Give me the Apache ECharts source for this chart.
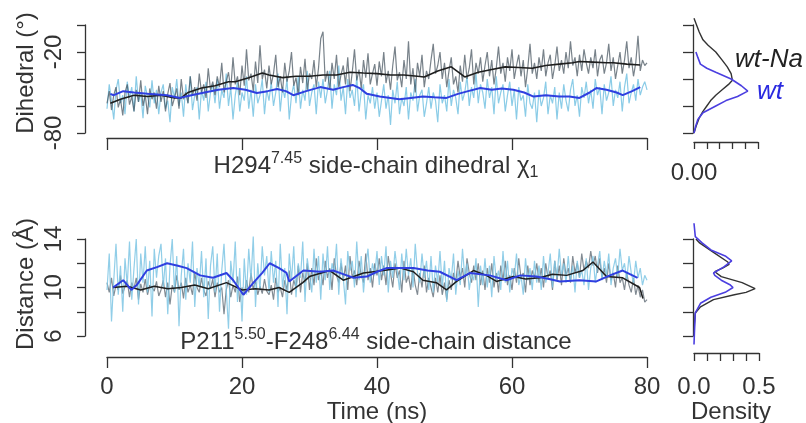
<!DOCTYPE html>
<html>
<head>
<meta charset="utf-8">
<script src="https://cdn.jsdelivr.net/npm/echarts@6.0.0/dist/echarts.min.js"></script>
<style>
html,body{margin:0;padding:0;background:#fff;}
#chart{width:806px;height:423px;}
</style>
</head>
<body>
<div id="chart"></div>
<script>
// ---------- DATA ----------
// raw trajectories, evenly sampled from 0 to 80 ns (one row = 8 ns)
const rawStartNs = 0, rawEndNs = 80;
const wtNaDihedralRaw = [
-58,-49,-63,-52,-46,-61,-55,-67,-50,-44,-59,-53,-64,-48,-57,-41,-60,-52,-66,-47,-55,-50,-62,-45,
-57,-49,-64,-51,-43,-60,-54,-47,-62,-40,-55,-50,-58,-38,-52,-46,-56,-36,-50,-44,-54,-32,-48,-42,
-52,-38,-46,-28,-50,-42,-35,-48,-24,-44,-38,-52,-30,-45,-18,-41,-36,-49,-27,-43,-15,-40,-33,-47,
-30,-44,-36,-22,-46,-38,-50,-28,-42,-34,-20,-45,-39,-52,-31,-43,-25,-48,-36,-40,-26,-46,-32,-10,
-5,-42,-34,-48,-28,-40,-22,-46,-37,-30,-44,-24,-49,-35,-18,-41,-33,-47,-26,-39,-21,-44,-36,-29,
-45,-27,-38,-20,-43,-34,-48,-30,-16,-41,-35,-46,-26,-40,-12,-44,-32,-50,-28,-38,-22,-46,-34,-40,
-26,-14,-36,-30,-20,-40,-28,-46,-34,-24,-44,-38,-50,-30,-42,-22,-40,-32,-18,-44,-28,-36,-24,-42,
-30,-20,-38,-26,-44,-32,-16,-36,-28,-42,-24,-34,-18,-40,-30,-22,-38,-26,-46,-32,-14,-36,-28,-40,
-24,-34,-18,-38,-28,-22,-40,-30,-16,-34,-26,-36,-20,-32,-12,-30,-24,-38,-22,-34,-18,-28,-36,-24,
-32,-18,-38,-26,-22,-36,-28,-14,-34,-24,-40,-30,-20,-36,-26,-12,-32,-24,-38,-28,-8,-34,-26,-30,
-28];
const wtDihedralRaw = [
-62,-44,-56,-70,-48,-40,-58,-52,-66,-42,-54,-46,-64,-38,-57,-50,-69,-45,-53,-61,-41,-58,-48,-66,
-50,-44,-62,-56,-72,-46,-54,-40,-60,-50,-68,-44,-58,-38,-63,-52,-46,-70,-48,-56,-42,-64,-50,-44,
-58,-40,-62,-48,-54,-36,-60,-46,-70,-52,-42,-64,-50,-56,-38,-62,-48,-68,-44,-58,-52,-40,-66,-48,
-56,-42,-60,-50,-36,-64,-46,-54,-40,-70,-52,-44,-58,-38,-62,-48,-56,-34,-60,-50,-44,-66,-42,-54,
-40,-58,-48,-34,-62,-44,-52,-30,-56,-46,-66,-40,-54,-48,-60,-38,-64,-50,-44,-70,-52,-58,-46,-62,
-50,-68,-56,-44,-62,-52,-74,-48,-58,-42,-66,-54,-60,-46,-70,-50,-56,-40,-64,-52,-48,-68,-58,-46,
-62,-50,-56,-72,-44,-58,-52,-64,-40,-60,-48,-54,-66,-42,-56,-50,-38,-60,-46,-54,-36,-58,-44,-50,
-62,-40,-54,-46,-66,-38,-58,-50,-44,-64,-52,-42,-60,-48,-70,-46,-56,-52,-68,-44,-58,-62,-50,-72,
-48,-60,-54,-42,-66,-52,-58,-46,-70,-50,-62,-44,-56,-64,-48,-40,-60,-52,-68,-46,-54,-42,-58,-48,
-62,-40,-52,-46,-66,-44,-56,-50,-38,-60,-48,-54,-42,-64,-46,-36,-58,-50,-44,-56,-40,-52,-46,-42,
-48];
const wtNaDistanceRaw = [
10.4,9.6,10.8,9.3,10.2,9.8,11.0,9.5,10.1,10.6,9.2,10.4,9.9,10.8,9.0,10.3,9.6,10.7,9.4,10.2,10.0,9.7,10.5,9.3,
9.8,10.6,9.2,10.4,8.6,10.2,9.6,11.0,9.8,10.4,9.1,10.8,9.6,10.2,9.4,11.2,10.0,9.6,10.8,9.8,9.3,10.5,9.9,10.7,
9.2,10.4,9.6,10.0,7.8,9.8,10.6,9.2,10.2,9.6,10.9,8.8,10.0,9.4,10.6,9.6,11.2,9.8,10.6,9.4,10.1,9.5,10.7,9.7,
9.4,10.2,9.0,10.8,9.6,10.0,9.2,10.6,9.8,11.4,9.4,10.6,10.0,11.8,9.6,11.2,10.4,12.0,9.8,11.6,10.2,12.4,10.6,11.4,
10.2,12.2,10.8,11.6,9.8,12.4,11.0,10.4,12.0,10.6,11.8,9.8,12.6,10.8,11.4,10.2,12.2,11.0,10.4,12.8,10.6,11.6,10.0,12.0,
11.0,12.4,10.6,11.8,10.2,12.6,11.2,10.0,12.0,10.8,11.4,9.6,12.2,10.4,11.0,9.8,11.6,10.2,9.4,11.2,10.0,11.8,9.6,10.8,
10.0,9.2,10.8,9.6,11.0,9.4,10.4,9.0,10.6,9.8,11.2,10.4,12.2,10.8,11.6,10.0,12.4,11.2,10.4,11.8,10.6,12.0,10.2,11.4,
9.8,11.6,10.4,12.0,10.0,11.2,9.6,11.8,10.6,12.2,10.2,11.0,9.8,11.6,10.4,12.4,10.8,11.2,9.6,11.8,10.2,11.4,10.8,12.0,
10.4,11.6,10.0,12.0,10.8,11.4,9.8,12.2,10.6,11.8,10.2,12.4,11.0,11.6,10.4,12.6,11.2,12.0,10.8,12.8,11.4,12.2,11.6,13.0,
11.8,12.6,11.2,12.4,10.8,11.6,10.4,12.0,10.6,11.2,10.0,11.8,10.4,10.8,9.8,11.2,10.2,9.6,10.8,9.4,10.2,9.2,9.8,8.8,
9.0];
const wtDistanceRaw = [
9.8,12.8,7.2,10.6,13.6,9.4,11.8,8.0,12.4,10.2,13.8,9.0,11.6,14.0,8.6,12.8,10.4,13.4,9.6,12.2,7.6,13.2,10.8,12.6,
13.6,10.0,12.4,7.8,11.8,14.0,9.6,12.6,6.8,11.0,13.2,9.0,12.0,10.4,13.8,8.4,11.6,10.0,13.0,9.2,12.4,7.4,11.8,13.4,
9.6,12.8,8.0,11.4,13.6,9.8,6.6,12.2,10.4,13.8,8.8,11.6,7.2,12.4,9.4,13.2,10.6,14.2,8.4,12.0,9.8,13.4,11.0,12.6,
9.6,13.0,10.4,12.2,8.4,13.6,10.0,11.6,7.8,12.8,10.6,13.4,9.2,12.0,10.8,13.8,8.8,12.4,11.0,9.6,13.2,10.4,12.6,9.0,
12.8,10.6,13.4,9.8,12.0,11.2,13.6,9.4,12.4,10.8,8.6,13.0,11.4,12.2,10.0,13.8,10.6,12.6,9.6,11.8,13.2,10.4,12.0,11.0,
13.0,10.2,12.6,11.0,13.4,9.6,12.2,10.8,13.0,11.4,9.8,12.8,10.6,13.2,11.0,12.4,10.0,13.6,11.2,10.4,12.8,10.8,12.2,9.8,
12.6,9.6,11.8,10.4,13.0,10.0,12.2,8.8,11.6,10.6,12.8,9.4,11.4,10.2,13.2,10.8,12.0,9.8,11.2,10.6,12.4,8.4,11.8,10.2,
12.4,10.0,11.8,9.2,12.6,10.6,11.4,9.8,13.0,10.4,12.2,9.6,11.6,10.8,12.8,10.2,11.0,9.4,12.4,10.6,11.6,9.8,12.2,10.4,
11.8,9.8,12.6,10.4,11.2,12.8,10.0,12.2,10.8,13.2,11.0,12.0,10.4,12.6,10.6,11.8,9.6,12.2,10.8,11.4,10.2,12.4,9.8,11.6,
12.6,10.4,11.8,13.0,10.6,12.2,11.0,12.8,10.2,11.6,12.4,10.8,13.2,11.4,12.0,10.6,12.6,11.2,10.4,12.2,10.8,11.6,10.2,11.0,
10.6];

// running averages
const wtNaDihAvgT = [0.5,2,4,6,8,10,11,12,14,16,18,19,21,23,24,26,28,30,32,34,36,38,40,42,44,46,47,49,51,53,55,57,59,61,63,65,67,69,70,72,74,75,77,79];
const wtNaDihAvgV = [-58,-55,-52,-53,-52,-54,-54,-50,-46.7,-45,-42,-42,-39,-35.6,-37,-39,-38,-38,-37,-37,-35,-35.6,-36,-37,-37,-38,-38.5,-34,-31,-38.5,-35,-33,-31,-31.5,-32,-30,-29,-28,-27,-27.5,-28,-28,-29,-29.6];
const wtDihAvgT = [0.5,1,2.4,4,6,8.9,10.8,12.5,14.8,16.5,18.7,20.5,22.2,23.8,25.2,26.5,27.6,29.5,31.6,33.5,35,36.4,37.5,38.5,40.4,42,43.3,45,46.8,48.5,50.3,52,53.5,55.3,57,58.5,60.2,61.8,63.2,65,67,68.5,70,71.5,72.5,74,75.5,76.4,77.8,79];
const wtDihAvgV = [-51,-52,-49,-50,-51,-52,-54,-52,-49.6,-48,-46.7,-48,-50.4,-49,-47.4,-49,-52,-49,-46,-48,-46,-44.4,-47,-51,-53,-54,-55,-54,-53,-53.5,-54,-51,-49,-46.7,-48,-47,-48,-50,-53,-52,-53,-53,-54,-50,-46.7,-48,-50,-52,-49,-46];
const wtNaDistAvgT = [0.9,3,5,7,9,11,13,15,17.7,20,22,24,25.5,27,29,30,33,35,38,41,43.5,45.4,46.8,48.8,50.3,51.8,54.3,56.2,57.7,60.2,62,64.1,66,68.1,70.5,72,74,76.4,78.9,79.4];
const wtNaDistAvgV = [10,10.1,9.8,10.1,9.9,10,10.2,9.9,10.4,9.8,9.9,9.8,10,9.6,10.4,10.9,11.4,10.6,11.2,11.4,11.6,11.3,10.6,10.4,9.8,10.5,11.4,11,10.5,10.9,10.7,10.8,11.1,11,11.4,12.1,10.9,10.8,10,9.1];
const wtDistAvgT = [0.9,2.4,3.6,4.4,5.9,7.5,8.9,10.5,11.8,13.8,15.7,17.7,18.7,20.2,21.7,23,24.1,25.5,26.6,27,29.1,31.6,33.5,35,36.5,38.5,40,41.4,43.4,45.4,47.5,49.3,51.8,53.8,56.7,59.2,61.2,63.6,65.5,67.1,70,72.5,74.5,76.4,78.6];
const wtDistAvgV = [10,10.6,9.8,10.2,11.4,11.7,12,11.8,11.6,11,10.8,11.2,10.6,9.4,10.4,11.2,12,11.6,11.2,10.5,11.4,11.3,11.4,11.1,10.8,10.9,11.3,11.6,11.6,11.6,11.4,11.3,10.6,11.2,11,10.6,11,10.9,10.7,10.5,10.6,10.5,11,11.4,10.8];

// densities: value levels and density
const wtNaDihDensV = [5,0,-5,-11,-15,-20,-26,-31,-36,-41,-44,-48,-52,-56,-60,-64,-69,-74,-80];
const wtNaDihDensD = [0,0.002,0.004,0.007,0.011,0.017,0.022,0.026,0.029,0.030,0.027,0.022,0.017,0.013,0.010,0.007,0.004,0.002,0];
const wtDihDensV = [-20,-24,-29,-32,-35,-40,-45,-49,-53,-56,-60,-65,-70,-76,-80];
const wtDihDensD = [0.0015,0.003,0.005,0.010,0.017,0.029,0.037,0.042,0.034,0.025,0.017,0.007,0.003,0.001,0];
const wtNaDistDensV = [14,13.7,12.9,12.1,11.9,11.6,11.3,10.9,10.4,9.9,9.6,9.4,9.0,8.4,7.9,7,6];
const wtNaDistDensD = [0.015,0.04,0.15,0.26,0.27,0.22,0.16,0.21,0.37,0.47,0.40,0.31,0.15,0.05,0.01,0.003,0];
const wtDistDensV = [15.3,14.2,13.7,13.1,12.6,12.2,11.7,11.2,11.0,10.6,10.2,10.0,9.6,9.2,8.7,7.9,6.2,5.3];
const wtDistDensD = [0,0.01,0.06,0.13,0.24,0.29,0.23,0.15,0.16,0.21,0.28,0.30,0.24,0.13,0.05,0.01,0.003,0];

const timeTicks = [0,20,40,60,80];
const dihTickLabels = [-20,-80];
const distTickLabels = [6,10,14];

// ---------- BUILD ----------
function rawPairs(vals){
  const n = vals.length;
  return vals.map((v,i)=>[rawStartNs + i*(rawEndNs-rawStartNs)/(n-1), v]);
}
function pairs(a,b){ return a.map((x,i)=>[x,b[i]]); }

const FONT = '"Liberation Sans", Arial, Helvetica, sans-serif';
const FS = 24;
const TXT = '#333';
const AXL = {onZero:false,lineStyle:{color:'#333',width:1.3}};
function tick(len){ return {length:len,lineStyle:{color:'#333',width:1.3}}; }

const chart = echarts.init(document.getElementById('chart'), null, {renderer:'canvas'});

function lineS(x,y,data,color,width,opacity,z){
  return {type:'line',xAxisIndex:x,yAxisIndex:y,data:data,showSymbol:false,symbol:'none',clip:false,
    lineStyle:{color:color,width:width,opacity:opacity},z:z,silent:true};
}

const option = {
  animation:false,
  backgroundColor:'#fff',
  grid:[
    {left:107,top:25,width:540,height:108},
    {left:694,top:25,width:64,height:108},
    {left:107,top:239,width:540,height:97},
    {left:694,top:239,width:65,height:97}
  ],
  xAxis:[
    {gridIndex:0,type:'value',min:0,max:80,interval:20,offset:5,position:'bottom',
     axisLine:AXL,axisTick:tick(12),axisLabel:{show:false},splitLine:{show:false}},
    {gridIndex:1,type:'value',min:0,max:0.05,interval:0.01,offset:9,position:'bottom',
     axisLine:AXL,axisTick:tick(7),
     axisLabel:{fontSize:FS,fontFamily:FONT,color:TXT,margin:19,formatter:v=>v===0?'0.00':''},splitLine:{show:false}},
    {gridIndex:2,type:'value',min:0,max:80,interval:20,offset:21,position:'bottom',
     axisLine:AXL,axisTick:tick(11),
     axisLabel:{fontSize:FS,fontFamily:FONT,color:TXT,margin:18,formatter:v=>timeTicks.includes(v)?String(v):''},splitLine:{show:false}},
    {gridIndex:3,type:'value',min:0,max:0.5,interval:0.1,offset:17,position:'bottom',
     axisLine:AXL,axisTick:tick(8),
     axisLabel:{fontSize:FS,fontFamily:FONT,color:TXT,margin:22,formatter:v=>(Math.abs(v)<1e-9?'0.0':(Math.abs(v-0.5)<1e-9?'0.5':''))},splitLine:{show:false}}
  ],
  yAxis:[
    {gridIndex:0,type:'value',min:-80,max:0,interval:20,offset:22,position:'left',
     axisLine:AXL,axisTick:tick(8),
     axisLabel:{fontSize:FS,fontFamily:FONT,color:TXT,rotate:90,margin:19,formatter:v=>dihTickLabels.includes(v)?String(v):''},splitLine:{show:false}},
    {gridIndex:1,type:'value',min:-80,max:0,interval:20,offset:1,position:'left',
     axisLine:AXL,axisTick:tick(10),axisLabel:{show:false},splitLine:{show:false}},
    {gridIndex:2,type:'value',min:6,max:14,interval:2,offset:22,position:'left',
     axisLine:AXL,axisTick:tick(8),
     axisLabel:{fontSize:FS,fontFamily:FONT,color:TXT,rotate:90,margin:19,formatter:v=>distTickLabels.includes(v)?String(v):''},splitLine:{show:false}},
    {gridIndex:3,type:'value',min:6,max:14,interval:2,offset:1,position:'left',
     axisLine:AXL,axisTick:tick(10),axisLabel:{show:false},splitLine:{show:false}}
  ],
  series:[
    // top panel
    lineS(0,0,rawPairs(wtDihedralRaw),'#7ec6e4',1.2,0.9,2),
    lineS(0,0,rawPairs(wtNaDihedralRaw),'#3f4d59',1.2,0.7,3),
    lineS(0,0,pairs(wtNaDihAvgT,wtNaDihAvgV),'#1e1e1e',1.6,1,4),
    lineS(0,0,pairs(wtDihAvgT,wtDihAvgV),'#2f3fe0',2,1,5),
    // top density
    lineS(1,1,pairs(wtNaDihDensD,wtNaDihDensV),'#333333',1.4,1,4),
    lineS(1,1,pairs(wtDihDensD,wtDihDensV),'#4b3fe0',1.6,1,5),
    // bottom panel
    lineS(2,2,rawPairs(wtNaDistanceRaw),'#3f4d59',1.2,0.65,2),
    lineS(2,2,rawPairs(wtDistanceRaw),'#7ec6e4',1.2,0.85,3),
    lineS(2,2,pairs(wtNaDistAvgT,wtNaDistAvgV),'#1e1e1e',1.5,1,4),
    lineS(2,2,pairs(wtDistAvgT,wtDistAvgV),'#2f3fe0',2,1,5),
    // bottom density
    lineS(3,3,pairs(wtNaDistDensD,wtNaDistDensV),'#333333',1.4,1,4),
    lineS(3,3,pairs(wtDistDensD,wtDistDensV),'#4b3fe0',1.6,1,5)
  ],
  graphic:[
    {type:'text',x:26,y:73,rotation:Math.PI/2,style:{text:'Dihedral (°)',font:FS+'px '+FONT,fill:TXT,align:'center',verticalAlign:'middle'}},
    {type:'text',x:26,y:284,rotation:Math.PI/2,style:{text:'Distance (Å)',font:FS+'px '+FONT,fill:TXT,align:'center',verticalAlign:'middle'}},
    {type:'text',x:376,y:166,style:{
      text:'{n|H294}{s|7.45}{n| side-chain dihedral χ}{b|1}',align:'center',verticalAlign:'middle',
      rich:{n:{fontSize:FS,fontFamily:FONT,fill:TXT,lineHeight:30},
            s:{fontSize:16,fontFamily:FONT,fill:TXT,lineHeight:17,verticalAlign:'top'},
            b:{fontSize:16,fontFamily:FONT,fill:TXT,lineHeight:13,verticalAlign:'bottom'}}}},
    {type:'text',x:376,y:342,style:{
      text:'{n|P211}{s|5.50}{n|-F248}{s|6.44}{n| side-chain distance}',align:'center',verticalAlign:'middle',
      rich:{n:{fontSize:FS,fontFamily:FONT,fill:TXT,lineHeight:30},
            s:{fontSize:16,fontFamily:FONT,fill:TXT,lineHeight:15,verticalAlign:'top'}}}},
    {type:'text',x:377,y:412,style:{text:'Time (ns)',font:FS+'px '+FONT,fill:TXT,align:'center',verticalAlign:'middle'}},
    {type:'text',x:731,y:412,style:{text:'Density',font:FS+'px '+FONT,fill:TXT,align:'center',verticalAlign:'middle'}},
    {type:'text',x:735,y:60,style:{text:'wt-Na',font:'italic 26px '+FONT,fill:'#222',align:'left',verticalAlign:'middle'}},
    {type:'text',x:757,y:92,style:{text:'wt',font:'italic 26px '+FONT,fill:'#2a2ae0',align:'left',verticalAlign:'middle'}}
  ]
};
chart.setOption(option);
</script>
</body>
</html>
